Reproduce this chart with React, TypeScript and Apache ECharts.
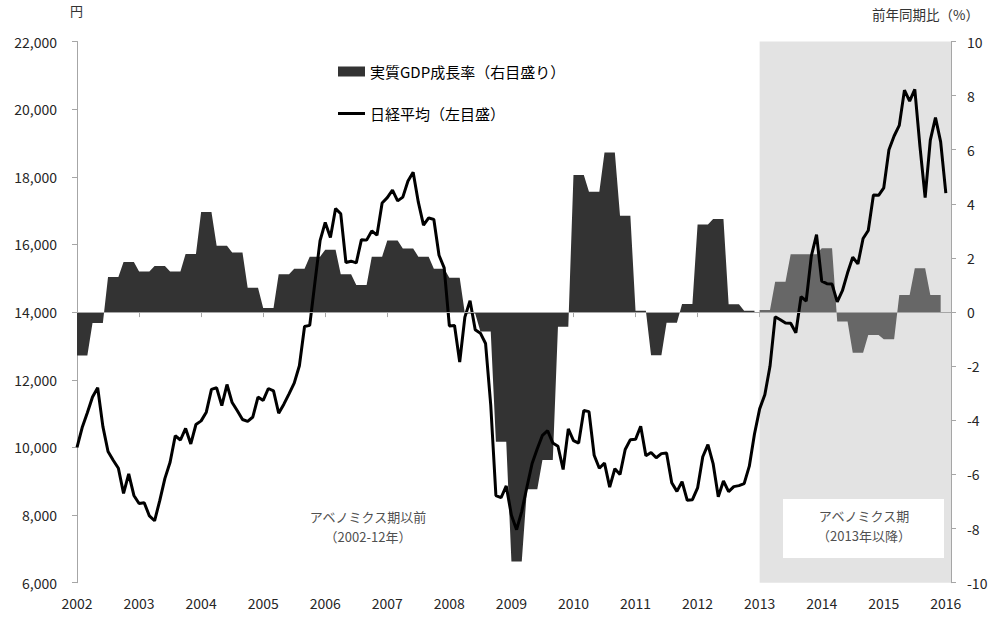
import React, { useEffect, useRef } from "react";
import * as echarts from "echarts";

// ---- Data ----
// x-axis: monthly categories Jan 2002 .. Feb 2016, ticks/labels at each January
const yearTicks = [2002, 2003, 2004, 2005, 2006, 2007, 2008, 2009, 2010, 2011, 2012, 2013, 2014, 2015, 2016];
const months: string[] = [];
for (const y of yearTicks) {
  for (let m = 1; m <= 12; m++) {
    if (y === 2016 && m > 2) break;
    months.push(`${y}/${m}`);
  }
}

// Nikkei average, month-end close (yen)
const nk2002 = [9998, 10588, 11025, 11492, 11764, 10622, 9878, 9619, 9383, 8640, 9216, 8579];
const nk2003 = [8340, 8363, 7973, 7831, 8425, 9083, 9563, 10344, 10219, 10560, 10101, 10677];
const nk2004 = [10784, 11042, 11715, 11762, 11236, 11859, 11326, 11082, 10824, 10771, 10899, 11489];
const nk2005 = [11388, 11741, 11669, 11009, 11277, 11584, 11900, 12414, 13574, 13607, 14872, 16111];
const nk2006 = [16650, 16205, 17060, 16906, 15467, 15505, 15457, 16141, 16128, 16399, 16274, 17226];
const nk2007 = [17383, 17604, 17288, 17400, 17876, 18138, 17249, 16569, 16786, 16738, 15681, 15308];
const nk2008 = [13592, 13603, 12526, 13850, 14338, 13481, 13377, 13073, 11260, 8577, 8512, 8860];
const nk2009 = [7994, 7568, 8110, 8828, 9523, 9958, 10357, 10493, 10133, 10035, 9346, 10546];
const nk2010 = [10198, 10126, 11090, 11057, 9769, 9383, 9537, 8824, 9369, 9202, 9937, 10229];
const nk2011 = [10238, 10624, 9755, 9850, 9694, 9816, 9833, 8955, 8700, 8988, 8435, 8455];
const nk2012 = [8803, 9723, 10084, 9521, 8543, 9007, 8695, 8840, 8870, 8928, 9446, 10395];
const nk2013 = [11139, 11559, 12398, 13861, 13775, 13677, 13668, 13389, 14456, 14328, 15662, 16291];
const nk2014 = [14915, 14841, 14828, 14304, 14632, 15162, 15621, 15425, 16174, 16414, 17460, 17451];
const nk2015 = [17674, 18798, 19207, 19520, 20563, 20236, 20585, 18891, 17388, 19083, 19748, 19034];
const nk2016 = [17518];

// Real GDP growth, y/y % (quarterly)
const gdpPre = [
  -1.6, -0.4, 1.3, 1.85,
  1.5, 1.7, 1.5, 2.15,
  3.7, 2.45, 2.2, 0.9,
  0.15, 1.4, 1.6, 2.05,
  2.3, 1.4, 1.0, 2.05,
  2.65, 2.35, 2.05, 1.6,
  1.27, -0.05, -0.72, -4.79,
  -9.22, -6.55, -5.47, -0.54,
  5.07, 4.45, 5.9, 3.56,
  0.05, -1.59, -0.39, 0.3,
  3.24, 3.44, 0.29, 0.05,
];
const gdpAbe = [
  0.08, 1.12, 2.14, 2.14,
  2.36, -0.35, -1.5, -0.85,
  -1.0, 0.63, 1.62, 0.63,
];

const leftTicks = { min: 6000, max: 22000, interval: 2000 };
const rightTicks = { min: -10, max: 10, interval: 2 };

const nikkei = [
  ...nk2002, ...nk2003, ...nk2004, ...nk2005, ...nk2006, ...nk2007, ...nk2008,
  ...nk2009, ...nk2010, ...nk2011, ...nk2012, ...nk2013, ...nk2014, ...nk2015, ...nk2016,
];

const abeStart = 132; // index of 2013/1
const gdpPreMonthly = months.map((_, i) => (i < abeStart ? gdpPre[Math.floor(i / 3)] : null));
const gdpAbeMonthly = months.map((_, i) =>
  i >= abeStart && i < abeStart + gdpAbe.length * 3 ? gdpAbe[Math.floor((i - abeStart) / 3)] : null
);
const nikkeiMonthly = months.map((_, i) => (i < nikkei.length ? nikkei[i] : null));
const empty = months.map(() => null);

const FONT = "'Noto Sans CJK JP', 'Noto Sans', sans-serif";
const AXIS = "#a6a6a6";
const GDP_NAME = "実質GDP成長率（右目盛り）";
const NK_NAME = "日経平均（左目盛）";

export default function App() {
  const ref = useRef<HTMLDivElement>(null);
  useEffect(() => {
    if (!ref.current) return;
    const chart = echarts.init(ref.current, null, { renderer: "svg" });
    const isTick = (i: number) => i % 12 === 0;
    chart.setOption({
      animation: false,
      backgroundColor: "#ffffff",
      textStyle: { fontFamily: FONT },
      grid: { left: 77, right: 45, top: 41.5, bottom: 34.3, containLabel: false },
      legend: {
        orient: "vertical",
        left: 333,
        top: 59,
        itemWidth: 27,
        itemHeight: 10,
        itemGap: 27,
        selectedMode: false,
        symbolKeepAspect: true,
        textStyle: { fontSize: 15, color: "#000", fontFamily: FONT },
        data: [
          { name: GDP_NAME, icon: "rect" },
          { name: NK_NAME, icon: "path://M0,0L27,0L27,3L0,3Z" },
        ],
      },
      xAxis: {
        type: "category",
        data: months,
        boundaryGap: false,
        axisLine: { show: true, lineStyle: { color: AXIS, width: 1 } },
        axisTick: { show: true, interval: isTick, length: 5, lineStyle: { color: AXIS } },
        axisLabel: {
          interval: isTick,
          formatter: (v: string) => v.slice(0, 4),
          fontSize: 14,
          color: "#262626",
          margin: 13,
          fontFamily: FONT,
        },
        splitLine: { show: false },
      },
      yAxis: [
        {
          type: "value",
          ...leftTicks,
          position: "left",
          axisLine: { show: true, lineStyle: { color: AXIS } },
          axisTick: { show: true, length: 5, lineStyle: { color: AXIS } },
          axisLabel: {
            fontSize: 14,
            color: "#262626",
            margin: 20,
            fontFamily: FONT,
            formatter: (v: number) => v.toLocaleString("en-US"),
          },
          splitLine: { show: false },
        },
        {
          type: "value",
          ...rightTicks,
          position: "right",
          axisLine: { show: true, lineStyle: { color: AXIS } },
          axisTick: { show: true, length: 5, lineStyle: { color: AXIS } },
          axisLabel: { fontSize: 14, color: "#262626", margin: 16, fontFamily: FONT },
          splitLine: { show: false },
        },
      ],
      series: [
        {
          name: "abe-bg",
          type: "line",
          data: empty,
          z: 1,
          silent: true,
          symbol: "none",
          markArea: {
            silent: true,
            itemStyle: { color: "#e3e3e3" },
            data: [[{ xAxis: months[abeStart] }, { xAxis: months[months.length - 1] }]],
          },
        },
        {
          name: GDP_NAME,
          type: "line",
          yAxisIndex: 1,
          data: gdpPreMonthly,
          z: 2,
          symbol: "none",
          itemStyle: { color: "#333333" },
          lineStyle: { width: 0, color: "#333333" },
          areaStyle: { color: "#333333", opacity: 1 },
        },
        {
          name: "gdp-abe",
          type: "line",
          yAxisIndex: 1,
          data: gdpAbeMonthly,
          z: 2,
          symbol: "none",
          itemStyle: { color: "#676767" },
          lineStyle: { width: 0, color: "#676767" },
          areaStyle: { color: "#676767", opacity: 1 },
        },
        {
          name: "zero",
          type: "line",
          yAxisIndex: 1,
          data: empty,
          z: 3,
          silent: true,
          symbol: "none",
          markLine: {
            silent: true,
            symbol: ["none", "none"],
            label: { show: false },
            lineStyle: { color: AXIS, width: 1, type: "solid" },
            data: [{ yAxis: 0 }],
          },
        },
        {
          name: NK_NAME,
          type: "line",
          yAxisIndex: 0,
          data: nikkeiMonthly,
          z: 4,
          symbol: "none",
          itemStyle: { color: "#000000" },
          lineStyle: { width: 3, color: "#000000" },
        },
      ],
      graphic: [
        {
          type: "text",
          left: 70,
          top: 4,
          style: { text: "円", fontSize: 13, fill: "#333", fontFamily: FONT },
        },
        {
          type: "text",
          left: 872,
          top: 7,
          style: { text: "前年同期比（%）", fontSize: 13.5, fill: "#333", fontFamily: FONT },
        },
        {
          type: "text",
          x: 368,
          y: 526,
          style: {
            text: "アベノミクス期以前\n（2002-12年）",
            fontSize: 13,
            lineHeight: 20,
            fill: "#505050",
            align: "center",
            verticalAlign: "middle",
            fontFamily: FONT,
          },
          z: 10,
        },
        {
          type: "rect",
          shape: { x: 783, y: 499, width: 161, height: 59 },
          style: { fill: "#ffffff" },
          z: 10,
        },
        {
          type: "text",
          x: 864,
          y: 525,
          style: {
            text: "アベノミクス期\n（2013年以降）",
            fontSize: 13,
            lineHeight: 20,
            fill: "#505050",
            align: "center",
            verticalAlign: "middle",
            fontFamily: FONT,
          },
          z: 11,
        },
      ],
    });
    return () => chart.dispose();
  }, []);
  return (
    <div
      ref={ref}
      style={{ position: "fixed", left: 0, top: 0, width: 996, height: 617 }}
    />
  );
}
